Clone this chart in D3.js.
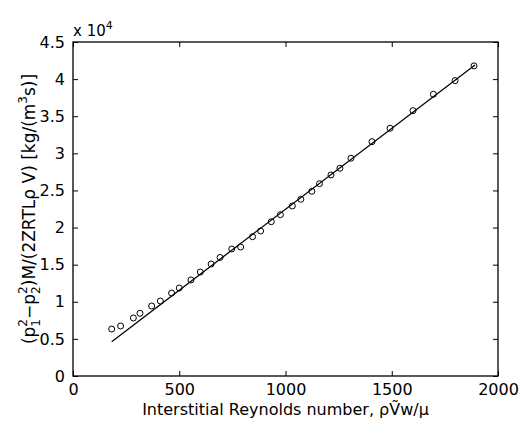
<!DOCTYPE html>
<html>
<head>
<meta charset="utf-8">
<script src="https://cdn.jsdelivr.net/npm/d3@7"></script>
<style>
  body { margin: 0; background: #fff; }
  svg text { font-family: "DejaVu Sans", sans-serif; fill: #000; }
</style>
</head>
<body>
<svg id="chart" width="525" height="428"></svg>
<script>

/****************************/
/*           Data           */
/****************************/
const reynolds = [182, 224, 284, 315, 370, 411, 464, 500, 555, 599, 650, 692, 747, 789,
  845, 883, 933, 976, 1032, 1072, 1124, 1160, 1214, 1256, 1308, 1407, 1492, 1600, 1696, 1798, 1887];
const flux = [6330, 6740, 7820, 8450, 9430, 10100, 11180, 11860, 12940, 14010, 15090, 15970,
  17110, 17380, 18770, 19540, 20790, 21730, 22910, 23810, 24890, 25910, 27090, 27990, 29340,
  31570, 33380, 35750, 37960, 39800, 41780];

// fitted line, two end points
const fitX = [182, 1892];
const fitY = [4620, 41910];

const xTicks = [0, 500, 1000, 1500, 2000];
const xTickLabels = ["0", "500", "1000", "1500", "2000"];
const yTicks = [0, 5000, 10000, 15000, 20000, 25000, 30000, 35000, 40000, 45000];
const yTickLabels = ["0", "0.5", "1", "1.5", "2", "2.5", "3", "3.5", "4", "4.5"];

/****************************/
/*          Layout          */
/****************************/
const margin = { top: 42, right: 27, bottom: 52, left: 73 };
const width = 525;
const height = 428;
const innerWidth = width - margin.left - margin.right;
const innerHeight = height - margin.top - margin.bottom;

const svg = d3.select("#chart");

const innerChart = svg
  .append("g")
    .attr("transform", `translate(${margin.left}, ${margin.top})`);

const xScale = d3.scaleLinear()
  .domain([0, 2000])
  .range([0, innerWidth]);

const yScale = d3.scaleLinear()
  .domain([0, 45000])
  .range([innerHeight, 0]);

/****************************/
/*           Axes           */
/****************************/
const tickLen = 5;

const styleAxis = (g) => {
  g.select(".domain").remove();
  g.selectAll(".tick line").attr("stroke", "#000").attr("stroke-width", 1);
  g.selectAll(".tick text").style("font-size", "16px");
};

innerChart.append("g")
    .attr("transform", `translate(0, ${innerHeight})`)
    .call(d3.axisBottom(xScale).tickValues(xTicks).tickSize(-tickLen).tickPadding(8)
      .tickFormat((d, i) => xTickLabels[i]))
    .call(styleAxis);

innerChart.append("g")
    .call(d3.axisTop(xScale).tickValues(xTicks).tickSize(-tickLen).tickFormat(""))
    .call(styleAxis);

innerChart.append("g")
    .call(d3.axisLeft(yScale).tickValues(yTicks).tickSize(-tickLen).tickPadding(8)
      .tickFormat((d, i) => yTickLabels[i]))
    .call(styleAxis);

innerChart.append("g")
    .attr("transform", `translate(${innerWidth}, 0)`)
    .call(d3.axisRight(yScale).tickValues(yTicks).tickSize(-tickLen).tickFormat(""))
    .call(styleAxis);

innerChart.append("rect")
    .attr("width", innerWidth)
    .attr("height", innerHeight)
    .attr("fill", "none")
    .attr("stroke", "#000")
    .attr("stroke-width", 1.3);

// exponent above the y axis
const expo = svg.append("text")
    .attr("x", margin.left)
    .attr("y", margin.top - 6)
    .style("font-size", "15px");
expo.append("tspan").text("x 10");
expo.append("tspan").attr("dy", -7).style("font-size", "11px").text("4");

/****************************/
/*       Line + points      */
/****************************/
const line = d3.line()
  .x(d => xScale(d[0]))
  .y(d => yScale(d[1]));

innerChart.append("path")
    .datum(d3.zip(fitX, fitY))
    .attr("d", line)
    .attr("fill", "none")
    .attr("stroke", "#000")
    .attr("stroke-width", 1.3);

innerChart.selectAll(".pt")
  .data(d3.zip(reynolds, flux))
  .join("circle")
    .attr("class", "pt")
    .attr("cx", d => xScale(d[0]))
    .attr("cy", d => yScale(d[1]))
    .attr("r", 3)
    .attr("fill", "none")
    .attr("stroke", "#000")
    .attr("stroke-width", 1);

/****************************/
/*        Axis labels       */
/****************************/
svg.append("text")
    .attr("x", margin.left + innerWidth / 2)
    .attr("y", 415)
    .attr("text-anchor", "middle")
    .style("font-size", "16px")
    .text("Interstitial Reynolds number, \u03C1V\u0303w/\u03BC");

const yLabel = svg.append("text")
    .attr("transform", `translate(35, ${margin.top + innerHeight / 2}) rotate(-90)`)
    .attr("text-anchor", "middle")
    .style("font-size", "17px");

const parts = [
  { t: "(p" },
  { t: "2", dy: -8, small: true },
  { t: "1", dx: -7.6, dy: 13, small: true },
  { t: "\u2212p", dy: -5 },
  { t: "2", dy: -8, small: true },
  { t: "2", dx: -7.6, dy: 13, small: true },
  { t: ")M/(2ZRTL\u03C1 V) [kg/(m", dy: -5 },
  { t: "3", dy: -8, small: true },
  { t: "s)]", dy: 8 }
];

yLabel.selectAll("tspan")
  .data(parts)
  .join("tspan")
    .attr("dx", d => d.dx || 0)
    .attr("dy", d => d.dy || 0)
    .style("font-size", d => d.small ? "12px" : null)
    .text(d => d.t);

</script>
</body>
</html>
